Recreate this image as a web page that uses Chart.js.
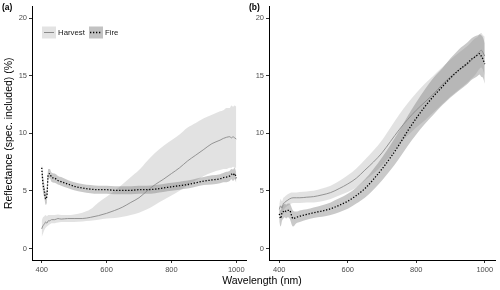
<!DOCTYPE html>
<html>
<head>
<meta charset="utf-8">
<script src="https://cdn.jsdelivr.net/npm/chart.js@4.4.0/dist/chart.umd.min.js"></script>
<style>
  body { margin: 0; background: #fff; }
  #wrap { position: relative; width: 500px; height: 290px; font-family: "Liberation Sans", Arial, sans-serif; color: #000; }
  .panel { position: absolute; top: 0; width: 250px; height: 290px; }
  .tag { position: absolute; top: 2px; font-size: 8.5px; font-weight: bold; }
  #xtitle { position: absolute; left: 0; width: 524px; top: 274px; text-align: center; font-size: 10.5px; }
</style>
</head>
<body>
<div id="wrap">
  <canvas id="panelA" class="panel" style="left:0" width="250" height="290"></canvas>
  <canvas id="panelB" class="panel" style="left:250px" width="250" height="290"></canvas>
  <div class="tag" style="left:2px">(a)</div>
  <div class="tag" style="left:249px">(b)</div>
  <div id="xtitle">Wavelength (nm)</div>
</div>
<script>
const wavelength = [400, 404, 408, 412, 416, 420, 425, 430, 440, 450, 460, 480, 500, 525, 550, 575, 600, 625, 650, 675,
  700, 725, 750, 775, 800, 825, 850, 875, 900, 925, 950, 960, 970, 980, 985, 990, 995, 1000]
const xTicks = [400, 600, 800, 1000]
const yTicks = [0, 5, 10, 15, 20]

// panel (a)
const harvestA = [1.7, 2.0, 2.1, 2.3, 2.2, 2.4, 2.4, 2.5, 2.5, 2.6, 2.55, 2.6, 2.6, 2.6, 2.7, 2.85, 3.05, 3.3, 3.6, 4.0,
  4.4, 5.0, 5.55, 6.0, 6.5, 7.0, 7.6, 8.1, 8.6, 9.1, 9.4, 9.55, 9.65, 9.7, 9.6, 9.7, 9.6, 9.5]
const harvestAHigh = [2.4, 2.7, 2.8, 2.9, 2.8, 2.9, 2.9, 2.9, 2.9, 2.95, 2.9, 2.9, 2.95, 3.1, 3.4, 4.0, 4.5, 5.0, 5.6, 6.2,
  6.8, 7.6, 8.3, 8.9, 9.4, 9.9, 10.5, 10.9, 11.3, 11.6, 11.9, 12.0, 12.2, 12.2, 12.4, 12.3, 12.4, 12.3]
const harvestALow = [1.0, 1.3, 1.6, 1.8, 1.9, 2.0, 2.1, 2.2, 2.2, 2.25, 2.3, 2.3, 2.3, 2.35, 2.4, 2.5, 2.6, 2.65, 2.75, 2.9,
  3.1, 3.4, 3.8, 4.2, 4.6, 5.0, 5.5, 5.9, 6.3, 6.6, 6.8, 6.9, 6.9, 7.0, 7.0, 7.1, 7.0, 7.0]
const fireA = [7.0, 5.6, 5.0, 4.3, 4.6, 6.4, 6.5, 6.2, 6.1, 5.9, 5.8, 5.6, 5.4, 5.25, 5.15, 5.1, 5.1, 5.05, 5.05, 5.05,
  5.1, 5.1, 5.15, 5.25, 5.35, 5.45, 5.55, 5.7, 5.85, 5.95, 6.05, 6.15, 6.2, 6.3, 6.45, 6.35, 6.5, 6.1]
const fireAHigh = [7.5, 6.3, 5.6, 4.9, 5.2, 6.9, 6.9, 6.6, 6.5, 6.3, 6.2, 5.95, 5.75, 5.6, 5.5, 5.45, 5.45, 5.4, 5.4, 5.4,
  5.45, 5.45, 5.5, 5.6, 5.7, 5.8, 5.9, 6.05, 6.2, 6.35, 6.45, 6.55, 6.65, 6.75, 6.9, 6.85, 7.0, 6.6]
const fireALow = [6.3, 4.9, 4.4, 3.8, 4.0, 5.9, 6.1, 5.8, 5.7, 5.55, 5.45, 5.25, 5.05, 4.9, 4.8, 4.75, 4.75, 4.7, 4.7, 4.7,
  4.75, 4.75, 4.8, 4.9, 5.0, 5.1, 5.2, 5.35, 5.5, 5.55, 5.65, 5.75, 5.75, 5.85, 6.0, 5.85, 6.0, 5.7]

// panel (b)
const harvestB = [3.4, 3.7, 3.5, 3.9, 4.0, 4.1, 4.2, 4.3, 4.4, 4.4, 4.4, 4.45, 4.5, 4.65, 4.85, 5.2, 5.6, 6.1, 6.8, 7.5,
  8.3, 9.3, 10.3, 11.2, 12.0, 12.7, 13.4, 14.2, 14.9, 15.5, 16.0, 16.3, 16.6, 16.9, 17.1, 17.2, 17.0, 16.7]
const harvestBHigh = [3.9, 4.3, 4.1, 4.4, 4.5, 4.6, 4.7, 4.8, 4.85, 4.85, 4.9, 4.95, 5.0, 5.2, 5.45, 5.85, 6.35, 6.95, 7.7, 8.5,
  9.4, 10.5, 11.6, 12.6, 13.5, 14.3, 15.0, 15.7, 16.4, 17.0, 17.6, 17.9, 18.2, 18.4, 18.6, 18.7, 18.5, 18.4]
const harvestBLow = [2.8, 3.0, 2.9, 3.3, 3.5, 3.6, 3.7, 3.8, 3.95, 3.95, 3.95, 4.0, 4.0, 4.1, 4.3, 4.6, 4.9, 5.3, 5.9, 6.5,
  7.2, 8.1, 9.0, 9.8, 10.5, 11.1, 11.8, 12.5, 13.2, 13.8, 14.4, 14.7, 15.0, 15.4, 15.6, 15.7, 15.5, 15.0]
const fireB = [3.0, 2.6, 3.1, 3.2, 3.3, 3.2, 3.3, 3.3, 2.6, 2.7, 2.8, 2.95, 3.1, 3.25, 3.45, 3.75, 4.1, 4.6, 5.2, 6.0,
  6.9, 7.9, 9.0, 10.2, 11.3, 12.3, 13.2, 14.0, 14.8, 15.5, 16.1, 16.4, 16.6, 16.8, 16.9, 16.7, 16.4, 16.0]
const fireBHigh = [3.6, 3.3, 3.7, 3.8, 3.9, 3.8, 3.9, 3.9, 3.3, 3.2, 3.3, 3.4, 3.55, 3.75, 4.0, 4.35, 4.75, 5.3, 6.0, 6.9,
  7.9, 9.0, 10.2, 11.5, 12.7, 13.8, 14.8, 15.6, 16.5, 17.3, 17.9, 18.2, 18.4, 18.5, 18.6, 18.5, 18.3, 17.8]
const fireBLow = [2.3, 1.9, 2.4, 2.6, 2.7, 2.6, 2.7, 2.6, 1.9, 2.2, 2.3, 2.5, 2.65, 2.75, 2.9, 3.15, 3.45, 3.9, 4.4, 5.1,
  5.9, 6.8, 7.8, 8.9, 9.9, 10.8, 11.6, 12.4, 13.1, 13.7, 14.3, 14.6, 14.8, 15.0, 15.1, 14.9, 14.8, 14.3]

const FONT = '"Liberation Sans", Arial, sans-serif'
const harvestBand = 'rgba(160,160,160,0.3)'
const fireBand = 'rgba(120,120,120,0.4)'

// legend drawn inside the plot of panel (a)
const keyPlugin = {
  id: 'keys',
  afterDraw(chart) {
    const ctx = chart.ctx
    const x0 = chart.chartArea.left + 10, y0 = chart.chartArea.top + 20
    const h = chart.data.datasets[4], f = chart.data.datasets[5]
    ctx.save()
    ctx.fillStyle = '#e3e3e3'
    ctx.fillRect(x0, y0, 14, 12)
    ctx.strokeStyle = h.borderColor
    ctx.lineWidth = 1
    ctx.beginPath(); ctx.moveTo(x0 + 2, y0 + 6); ctx.lineTo(x0 + 12, y0 + 6); ctx.stroke()
    ctx.fillStyle = '#c2c2c2'
    ctx.fillRect(x0 + 47, y0, 14, 12)
    ctx.strokeStyle = f.borderColor
    ctx.lineWidth = 1.3
    ctx.setLineDash(f.borderDash)
    ctx.beginPath(); ctx.moveTo(x0 + 48, y0 + 6); ctx.lineTo(x0 + 60, y0 + 6); ctx.stroke()
    ctx.setLineDash([])
    ctx.fillStyle = '#1a1a1a'
    ctx.font = '7.8px ' + FONT
    ctx.textBaseline = 'middle'
    ctx.fillText(h.label, x0 + 16, y0 + 6.5)
    ctx.fillText(f.label, x0 + 63, y0 + 6.5)
    ctx.restore()
  }
}

function makePanel(id, h, hHi, hLo, f, fHi, fLo, yWidth, yTitle, padRight, extra) {
  const band = (data, bg, fill, order) => ({
    data: data, borderWidth: 0, borderColor: 'rgba(0,0,0,0)', pointRadius: 0, fill: fill,
    backgroundColor: bg, order: order, cubicInterpolationMode: 'monotone'
  })
  return new Chart(document.getElementById(id), {
    type: 'line',
    data: {
      labels: wavelength,
      datasets: [
        band(hHi, harvestBand, false, 3),
        band(hLo, harvestBand, '-1', 3),
        band(fHi, fireBand, false, 2),
        band(fLo, fireBand, '-1', 2),
        { label: 'Harvest', data: h, borderColor: '#8a8a8a', borderWidth: 0.9, pointRadius: 0,
          fill: false, order: 1, cubicInterpolationMode: 'monotone' },
        { label: 'Fire', data: f, borderColor: '#000', borderWidth: 1.3, borderDash: [1.3, 1.7],
          pointRadius: 0, fill: false, order: 0, cubicInterpolationMode: 'monotone' }
      ]
    },
    options: {
      responsive: false,
      animation: false,
      layout: { padding: { top: 5, right: padRight, left: 0, bottom: 0 } },
      plugins: { legend: { display: false }, tooltip: { enabled: false } },
      scales: {
        x: {
          type: 'linear', min: 370, max: 1030,
          afterBuildTicks: s => { s.ticks = xTicks.map(v => ({ value: v })) },
          afterFit: s => { s.height = 30 },
          border: { display: true, color: '#000', width: 1 },
          grid: { drawOnChartArea: false, drawTicks: true, tickLength: 3, color: '#333' },
          ticks: { color: '#4d4d4d', font: { family: FONT, size: 7.5 }, padding: 2, maxRotation: 0,
            callback: v => String(v) }
        },
        y: {
          min: -1, max: 21,
          afterBuildTicks: s => { s.ticks = yTicks.map(v => ({ value: v })) },
          afterFit: s => { s.width = yWidth },
          border: { display: true, color: '#000', width: 1 },
          grid: { drawOnChartArea: false, drawTicks: true, tickLength: 3, color: '#333' },
          ticks: { color: '#4d4d4d', font: { family: FONT, size: 7.5 }, padding: 2, callback: v => String(v) },
          title: { display: !!yTitle, text: yTitle, color: '#000', font: { family: FONT, size: 10.5 },
            padding: { top: 3, bottom: 0 } }
        }
      }
    },
    plugins: extra
  })
}

makePanel('panelA', harvestA, harvestAHigh, harvestALow, fireA, fireAHigh, fireALow, 32,
  'Reflectance (spec. included) (%)', 4, [keyPlugin])
makePanel('panelB', harvestB, harvestBHigh, harvestBLow, fireB, fireBHigh, fireBLow, 19, '', 5, [])
</script>
</body>
</html>
